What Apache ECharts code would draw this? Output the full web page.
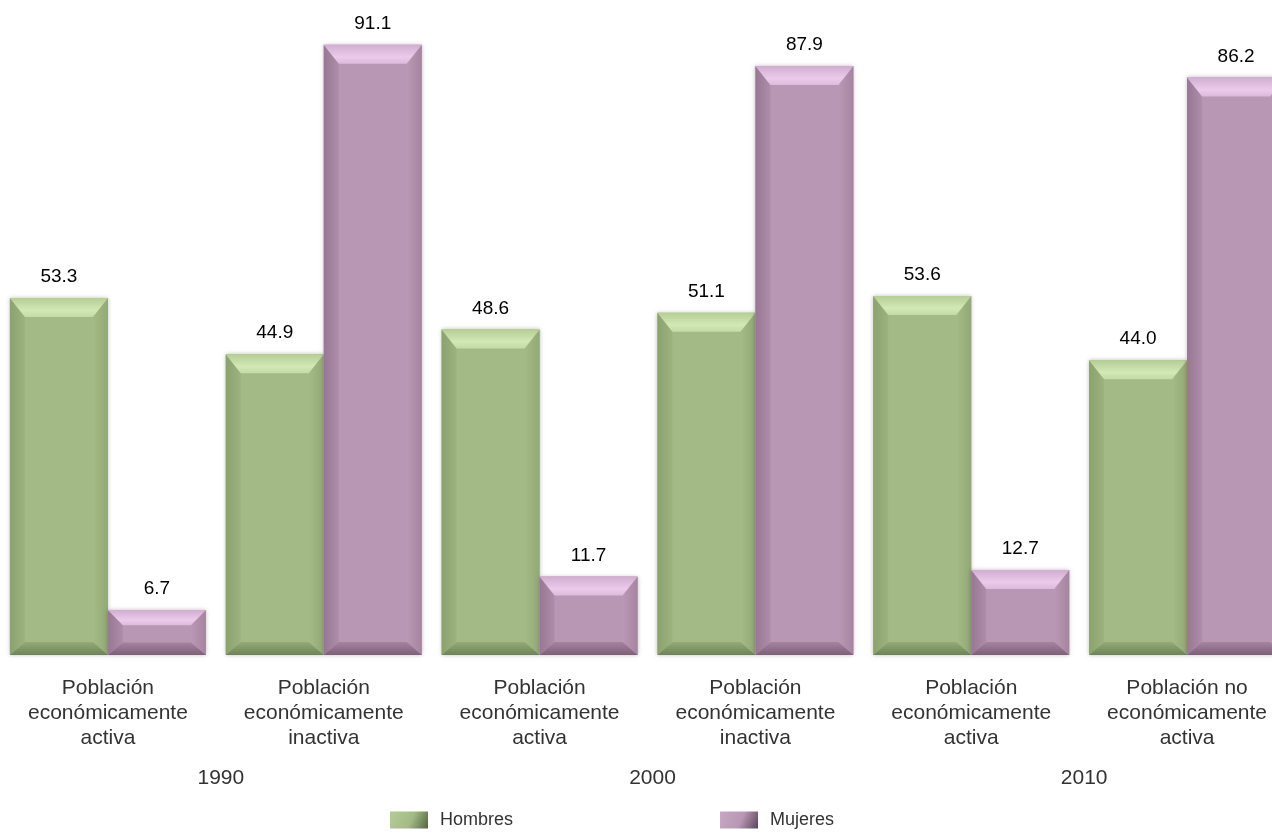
<!DOCTYPE html>
<html>
<head>
<meta charset="utf-8">
<script src="https://cdn.jsdelivr.net/npm/echarts@6/dist/echarts.min.js"></script>
<style>
  html, body { margin: 0; padding: 0; background: #fff; }
  #chart { width: 1272px; height: 833px; }
</style>
</head>
<body>
<div id="chart"></div>
<script>
const categories = [
  'Población\neconómicamente\nactiva',
  'Población\neconómicamente\ninactiva',
  'Población\neconómicamente\nactiva',
  'Población\neconómicamente\ninactiva',
  'Población\neconómicamente\nactiva',
  'Población no\neconómicamente\nactiva'
]
const years = ['1990', '2000', '2010']
const hombres = [53.3, 44.9, 48.6, 51.1, 53.6, 44.0]
const mujeres = [6.7, 91.1, 11.7, 87.9, 12.7, 86.2]

const fontFamily = '"Liberation Sans", Arial, sans-serif'

// colores de cada serie (cara, biseles)
const palettes = [
  {
    face: '#a3ba86',
    topA: '#b6cd97', topB: '#d3e8b4', topC: '#c4dba6',
    left: ['#8ba26f', '#9cb37f'],
    right: ['#a4bb87', '#92a876'],
    bottom: ['#94ab78', '#6d8455'],
    legend: ['#b4cc96', '#a3ba86', '#55663f']
  },
  {
    face: '#b897b4',
    topA: '#cfaecf', topB: '#ebcaeb', topC: '#dcbadb',
    left: ['#987795', '#ae8daa'],
    right: ['#b999b5', '#a5849f'],
    bottom: ['#a5849f', '#7f5f7a'],
    legend: ['#c8a7c4', '#b897b4', '#5c4358']
  }
]

const vGrad = (a, b, c) => ({
  type: 'linear', x: 0, y: 0, x2: 0, y2: 1,
  colorStops: c
    ? [{ offset: 0, color: a }, { offset: 0.65, color: b }, { offset: 1, color: c }]
    : [{ offset: 0, color: a }, { offset: 1, color: b }]
})
const hGrad = (a, b) => ({
  type: 'linear', x: 0, y: 0, x2: 1, y2: 0,
  colorStops: [{ offset: 0, color: a }, { offset: 1, color: b }]
})

function bevelBar(side) {
  const p = palettes[side]
  return function (params, api) {
    const cat = api.value(0)
    const val = api.value(1)
    const top = api.coord([cat, val])
    const base = api.coord([cat, 0])
    const band = api.size([1, 0])[0]
    const w = band * 0.454
    const x0 = side === 0 ? top[0] - w : top[0]
    const x1 = x0 + w
    const y0 = top[1]
    const y1 = base[1]
    const h = y1 - y0
    const bt = Math.min(19, h * 0.34)
    const bb = Math.min(13, h * 0.28)
    const bs = Math.min(15, w * 0.16)
    const cx = (x0 + x1) / 2
    return {
      type: 'group',
      children: [
        {
          type: 'rect',
          shape: { x: x0, y: y0, width: w, height: h },
          style: { fill: p.face, shadowBlur: 4, shadowColor: 'rgba(0,0,0,0.25)' }
        },
        {
          type: 'polygon',
          shape: { points: [[x0, y0], [x0 + bs, y0 + bt], [x0 + bs, y1 - bb], [x0, y1]] },
          style: { fill: hGrad(p.left[0], p.left[1]) }
        },
        {
          type: 'polygon',
          shape: { points: [[x1, y0], [x1 - bs, y0 + bt], [x1 - bs, y1 - bb], [x1, y1]] },
          style: { fill: hGrad(p.right[0], p.right[1]) }
        },
        {
          type: 'polygon',
          shape: { points: [[x0, y1], [x0 + bs, y1 - bb], [x1 - bs, y1 - bb], [x1, y1]] },
          style: { fill: vGrad(p.bottom[0], p.bottom[1]) }
        },
        {
          type: 'polygon',
          shape: { points: [[x0, y0], [x1, y0], [x1 - bs, y0 + bt], [x0 + bs, y0 + bt]] },
          style: { fill: vGrad(p.topA, p.topB, p.topC) }
        },
        {
          type: 'text',
          style: {
            x: cx,
            y: y0 - 21,
            text: val.toFixed(1),
            align: 'center',
            verticalAlign: 'middle',
            fill: '#000',
            font: '19px ' + fontFamily
          }
        }
      ]
    }
  }
}

const legendIcon = (c) => ({
  type: 'linear', x: 0, y: 0, x2: 1, y2: 1,
  colorStops: [
    { offset: 0, color: c[0] },
    { offset: 0.55, color: c[1] },
    { offset: 1, color: c[2] }
  ]
})

const chart = echarts.init(document.getElementById('chart'))
chart.setOption({
  animation: false,
  backgroundColor: '#fff',
  textStyle: { fontFamily: fontFamily },
  legend: {
    left: 385,
    top: 806,
    icon: 'rect',
    itemWidth: 38,
    itemHeight: 17,
    itemGap: 207,
    textStyle: { fontSize: 18, color: '#333', padding: [0, 0, 0, 7] },
    data: [
      { name: 'Hombres', itemStyle: { color: legendIcon(palettes[0].legend) } },
      { name: 'Mujeres', itemStyle: { color: legendIcon(palettes[1].legend) } }
    ]
  },
  grid: { left: 0, width: 1295, top: -15, height: 670, outerBoundsMode: 'none' },
  xAxis: [
    {
      type: 'category',
      data: categories,
      axisLine: { show: false },
      axisTick: { show: false },
      axisLabel: {
        interval: 0,
        margin: 21,
        fontSize: 21,
        lineHeight: 25,
        color: '#333'
      }
    },
    {
      type: 'category',
      data: years,
      position: 'bottom',
      axisLine: { show: false },
      axisTick: { show: false },
      axisLabel: {
        interval: 0,
        margin: 111,
        fontSize: 21,
        lineHeight: 25,
        color: '#333',
        padding: [0, 0, 0, 10]
      }
    }
  ],
  yAxis: { type: 'value', min: 0, max: 100, show: false, splitLine: { show: false } },
  series: [
    {
      name: 'Hombres',
      type: 'custom',
      renderItem: bevelBar(0),
      itemStyle: { color: palettes[0].face },
      encode: { x: 0, y: 1 },
      data: hombres.map((v, i) => [i, v])
    },
    {
      name: 'Mujeres',
      type: 'custom',
      renderItem: bevelBar(1),
      itemStyle: { color: palettes[1].face },
      encode: { x: 0, y: 1 },
      data: mujeres.map((v, i) => [i, v])
    }
  ]
})
</script>
</body>
</html>
